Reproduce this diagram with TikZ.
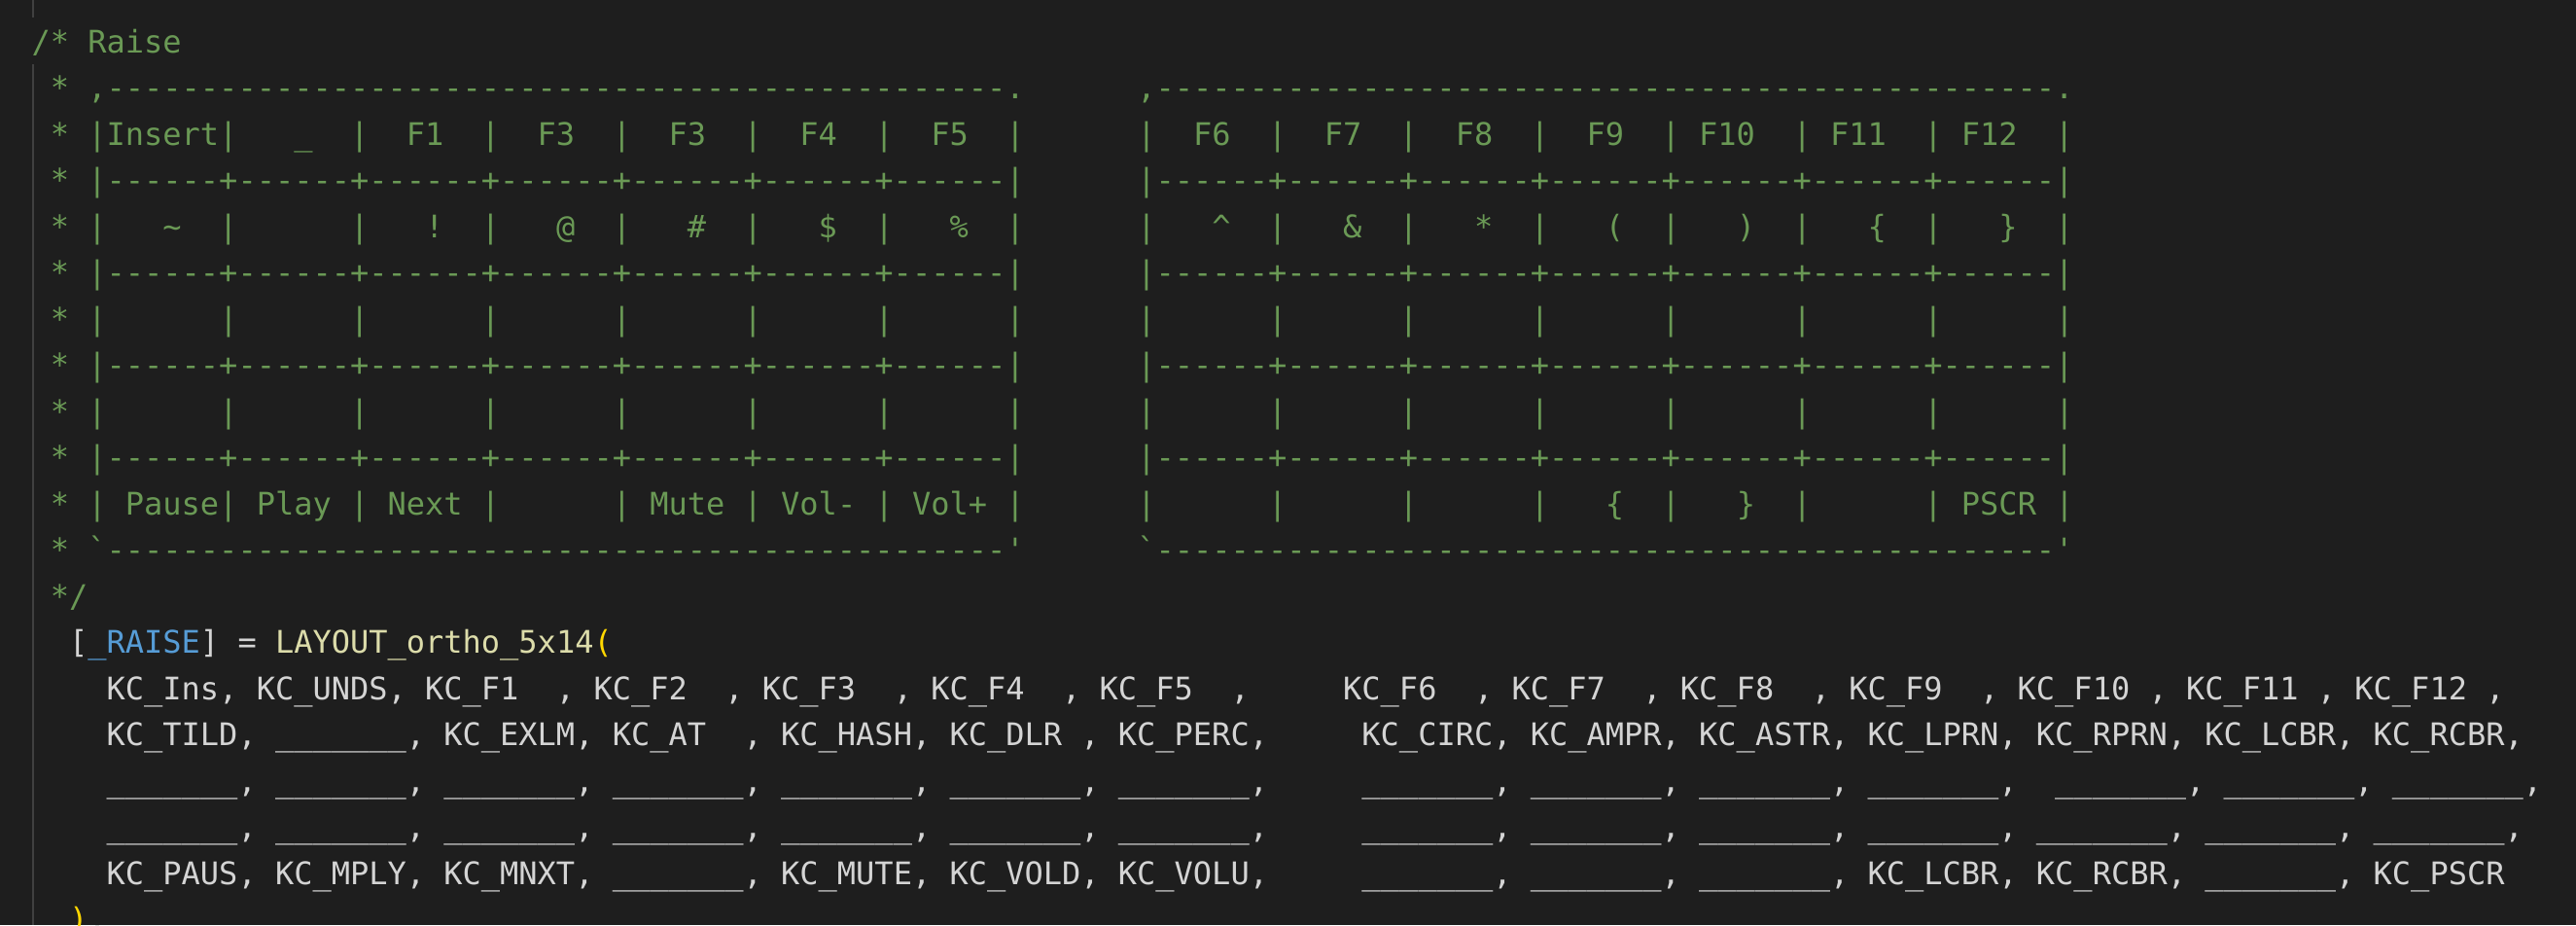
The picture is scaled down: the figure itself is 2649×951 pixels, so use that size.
\documentclass[tikz,border=0pt]{standalone}
\usepackage{fontspec}
\newfontfamily\code{DejaVu Sans Mono}
\ExplSyntaxOn
\cs_new:Npn \rep #1#2 {\prg_replicate:nn{#1}{#2}}
\ExplSyntaxOff
\definecolor{bg}{HTML}{1E1E1E}
\definecolor{cmt}{HTML}{6A9955}
\definecolor{txt}{HTML}{D4D4D4}
\definecolor{enumc}{HTML}{569CD6}
\definecolor{fnc}{HTML}{DCDCAA}
\definecolor{brk}{HTML}{FFD700}
\definecolor{guide}{HTML}{404040}
\newcommand\B{\rep{7}{\_}}
\newcommand\sepc{------+------+------+------+------+------+------}
\newcommand\emp{\rep{7}{\rep{6}{~}|}}
\begin{document}
\begin{tikzpicture}[x=1pt,y=1pt,
  ln/.style={anchor=base west,inner sep=0pt,font=\code\fontsize{32}{40}\selectfont}]
\fill[bg] (0,0) rectangle (2649,-951);
\useasboundingbox (0,0) rectangle (2649,-951);
\draw[guide,line width=1.5pt] (34,0) -- (34,-18);
\draw[guide,line width=1.5pt] (34,-66) -- (34,-951);
\def\Y#1{-54-47.5*#1}
\foreach \r/\t in {
 0/{/*~Raise},
 1/{~*~,\rep{48}{-}.\rep{6}{~},\rep{48}{-}.},
 2/{~*~|Insert|~~~\_~~|~~F1~~|~~F3~~|~~F3~~|~~F4~~|~~F5~~|\rep{6}{~}|~~F6~~|~~F7~~|~~F8~~|~~F9~~|~F10~~|~F11~~|~F12~~|},
 3/{~*~|\sepc|\rep{6}{~}|\sepc|},
 4/{~*~|~~~\textasciitilde~~|~~~~~~|~~~!~~|~~~@~~|~~~\#~~|~~~\$~~|~~~\%~~|\rep{6}{~}|~~~\textasciicircum~~|~~~\&~~|~~~*~~|~~~(~~|~~~)~~|~~~\{~~|~~~\}~~|},
 5/{~*~|\sepc|\rep{6}{~}|\sepc|},
 6/{~*~|\emp\rep{6}{~}|\emp},
 7/{~*~|\sepc|\rep{6}{~}|\sepc|},
 8/{~*~|\emp\rep{6}{~}|\emp},
 9/{~*~|\sepc|\rep{6}{~}|\sepc|},
 10/{~*~|~Pause|~Play~|~Next~|~~~~~~|~Mute~|~Vol-~|~Vol+~|\rep{6}{~}|~~~~~~|~~~~~~|~~~~~~|~~~\{~~|~~~\}~~|~~~~~~|~PSCR~|},
 11/{~*~\textasciigrave\rep{48}{-}\textquotesingle\rep{6}{~}\textasciigrave\rep{48}{-}\textquotesingle},
 12/{~*/}}
  \node[ln,text=cmt] (c\r) at (32.4,{\Y{\r}}) {\t};
\node[ln,text=txt] (l13) at (32.4,{\Y{13}}) {~~[\textcolor{enumc}{\_RAISE}]~=~\textcolor{fnc}{LAYOUT\_ortho\_5x14}\textcolor{brk}{(}};
\foreach \r/\t in {
 14/{~~~~KC\_Ins,~KC\_UNDS,~KC\_F1~~,~KC\_F2~~,~KC\_F3~~,~KC\_F4~~,~KC\_F5~~,\rep{5}{~}KC\_F6~~,~KC\_F7~~,~KC\_F8~~,~KC\_F9~~,~KC\_F10~,~KC\_F11~,~KC\_F12~,},
 15/{~~~~KC\_TILD,~\B,~KC\_EXLM,~KC\_AT~~,~KC\_HASH,~KC\_DLR~,~KC\_PERC,\rep{5}{~}KC\_CIRC,~KC\_AMPR,~KC\_ASTR,~KC\_LPRN,~KC\_RPRN,~KC\_LCBR,~KC\_RCBR,},
 16/{~~~~\B,~\B,~\B,~\B,~\B,~\B,~\B,\rep{5}{~}\B,~\B,~\B,~\B,~~\B,~\B,~\B,},
 17/{~~~~\B,~\B,~\B,~\B,~\B,~\B,~\B,\rep{5}{~}\B,~\B,~\B,~\B,~\B,~\B,~\B,},
 18/{~~~~KC\_PAUS,~KC\_MPLY,~KC\_MNXT,~\B,~KC\_MUTE,~KC\_VOLD,~KC\_VOLU,\rep{5}{~}\B,~\B,~\B,~KC\_LCBR,~KC\_RCBR,~\B,~KC\_PSCR}}
  \node[ln,text=txt] (l\r) at (32.4,{\Y{\r}}) {\t};
\node[ln,text=txt] (l19) at (32.4,{\Y{19}}) {~~\textcolor{brk}{)},};
\end{tikzpicture}
\end{document}
